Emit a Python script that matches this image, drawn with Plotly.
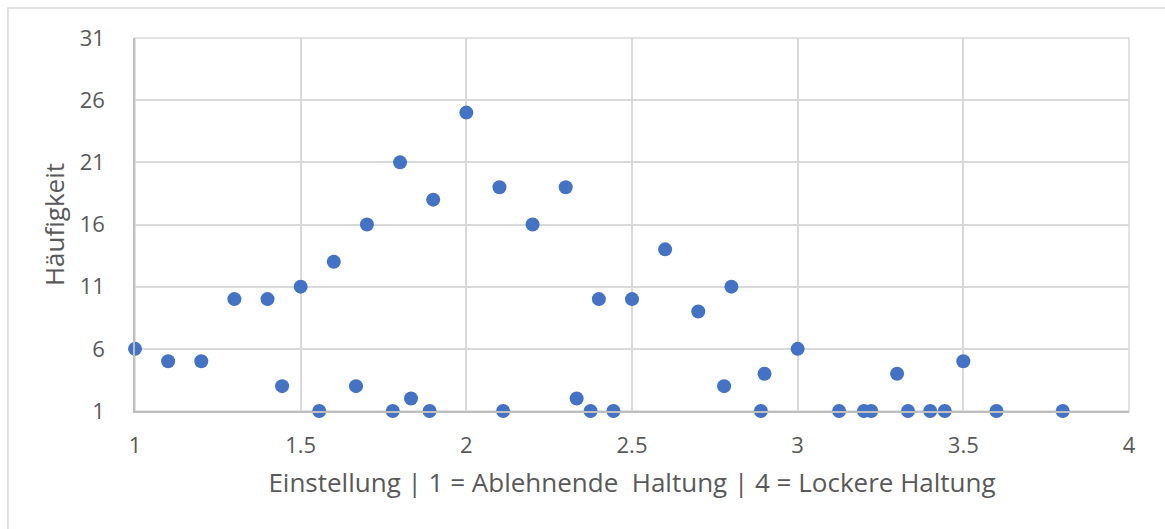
import plotly.graph_objects as go

# Einstellung (mean score) and Häufigkeit (count) per observed score
einstellung = [1.0, 1.1, 1.2, 1.3, 1.4, 1.444, 1.5, 1.556, 1.6, 1.667, 1.7, 1.778,
               1.8, 1.833, 1.889, 1.9, 2.0, 2.1, 2.111, 2.2, 2.3, 2.333, 2.375, 2.4,
               2.444, 2.5, 2.6, 2.7, 2.778, 2.8, 2.889, 2.9, 3.0, 3.125, 3.2, 3.222,
               3.3, 3.333, 3.4, 3.444, 3.5, 3.6, 3.8]
haeufigkeit = [6, 5, 5, 10, 10, 3, 11, 1, 13, 3, 16, 1,
               21, 2, 1, 18, 25, 19, 1, 16, 19, 2, 1, 10,
               1, 10, 14, 9, 3, 11, 1, 4, 6, 1, 1, 1,
               4, 1, 1, 1, 5, 1, 1]

x_title = "Einstellung | 1 = Ablehnende  Haltung | 4 = Lockere Haltung"
y_title = "Häufigkeit"

TEXT = "#595959"
GRID = "#d9d9d9"
AXIS = "#bfbfbf"
FONT = "'Open Sans', Lato, sans-serif"

fig = go.Figure(
    go.Scatter(
        x=einstellung,
        y=haeufigkeit,
        mode="markers",
        marker=dict(size=14, color="#4472C4", line=dict(width=0)),
        cliponaxis=False,
        hoverinfo="x+y",
    )
)

fig.update_layout(
    width=1165,
    height=529,
    margin=dict(l=135, r=36, t=38, b=118),
    paper_bgcolor="white",
    plot_bgcolor="white",
    showlegend=False,
    font=dict(family=FONT, color=TEXT, size=22),
)

fig.update_xaxes(
    range=[1, 4],
    tick0=1,
    dtick=0.5,
    showgrid=True,
    gridcolor=GRID,
    gridwidth=1.5,
    showline=True,
    linecolor=AXIS,
    linewidth=1.5,
    zeroline=False,
    ticks="",
    ticklabelstandoff=14,
    tickfont=dict(size=22, color=TEXT),
    title=dict(text=x_title, font=dict(size=26, color=TEXT), standoff=16),
)

fig.update_yaxes(
    range=[1, 31],
    tick0=1,
    dtick=5,
    showgrid=True,
    gridcolor=GRID,
    gridwidth=1.5,
    showline=True,
    linecolor=AXIS,
    linewidth=1.5,
    zeroline=False,
    ticks="",
    ticklabelstandoff=24,
    tickfont=dict(size=22, color=TEXT),
    title=dict(text=y_title, font=dict(size=26, color=TEXT), standoff=8),
)

# right-hand and top gridlines closing the plot frame
fig.add_shape(type="rect", xref="paper", yref="paper", x0=0, y0=0, x1=1, y1=1,
              line=dict(color=GRID, width=1.5), layer="below")

# chart-area border
fig.add_shape(type="rect", xref="paper", yref="paper",
              x0=-0.1278, y0=-0.5, x1=1.2, y1=1.0804,
              line=dict(color=GRID, width=1.5))

fig.write_html("out.html")
